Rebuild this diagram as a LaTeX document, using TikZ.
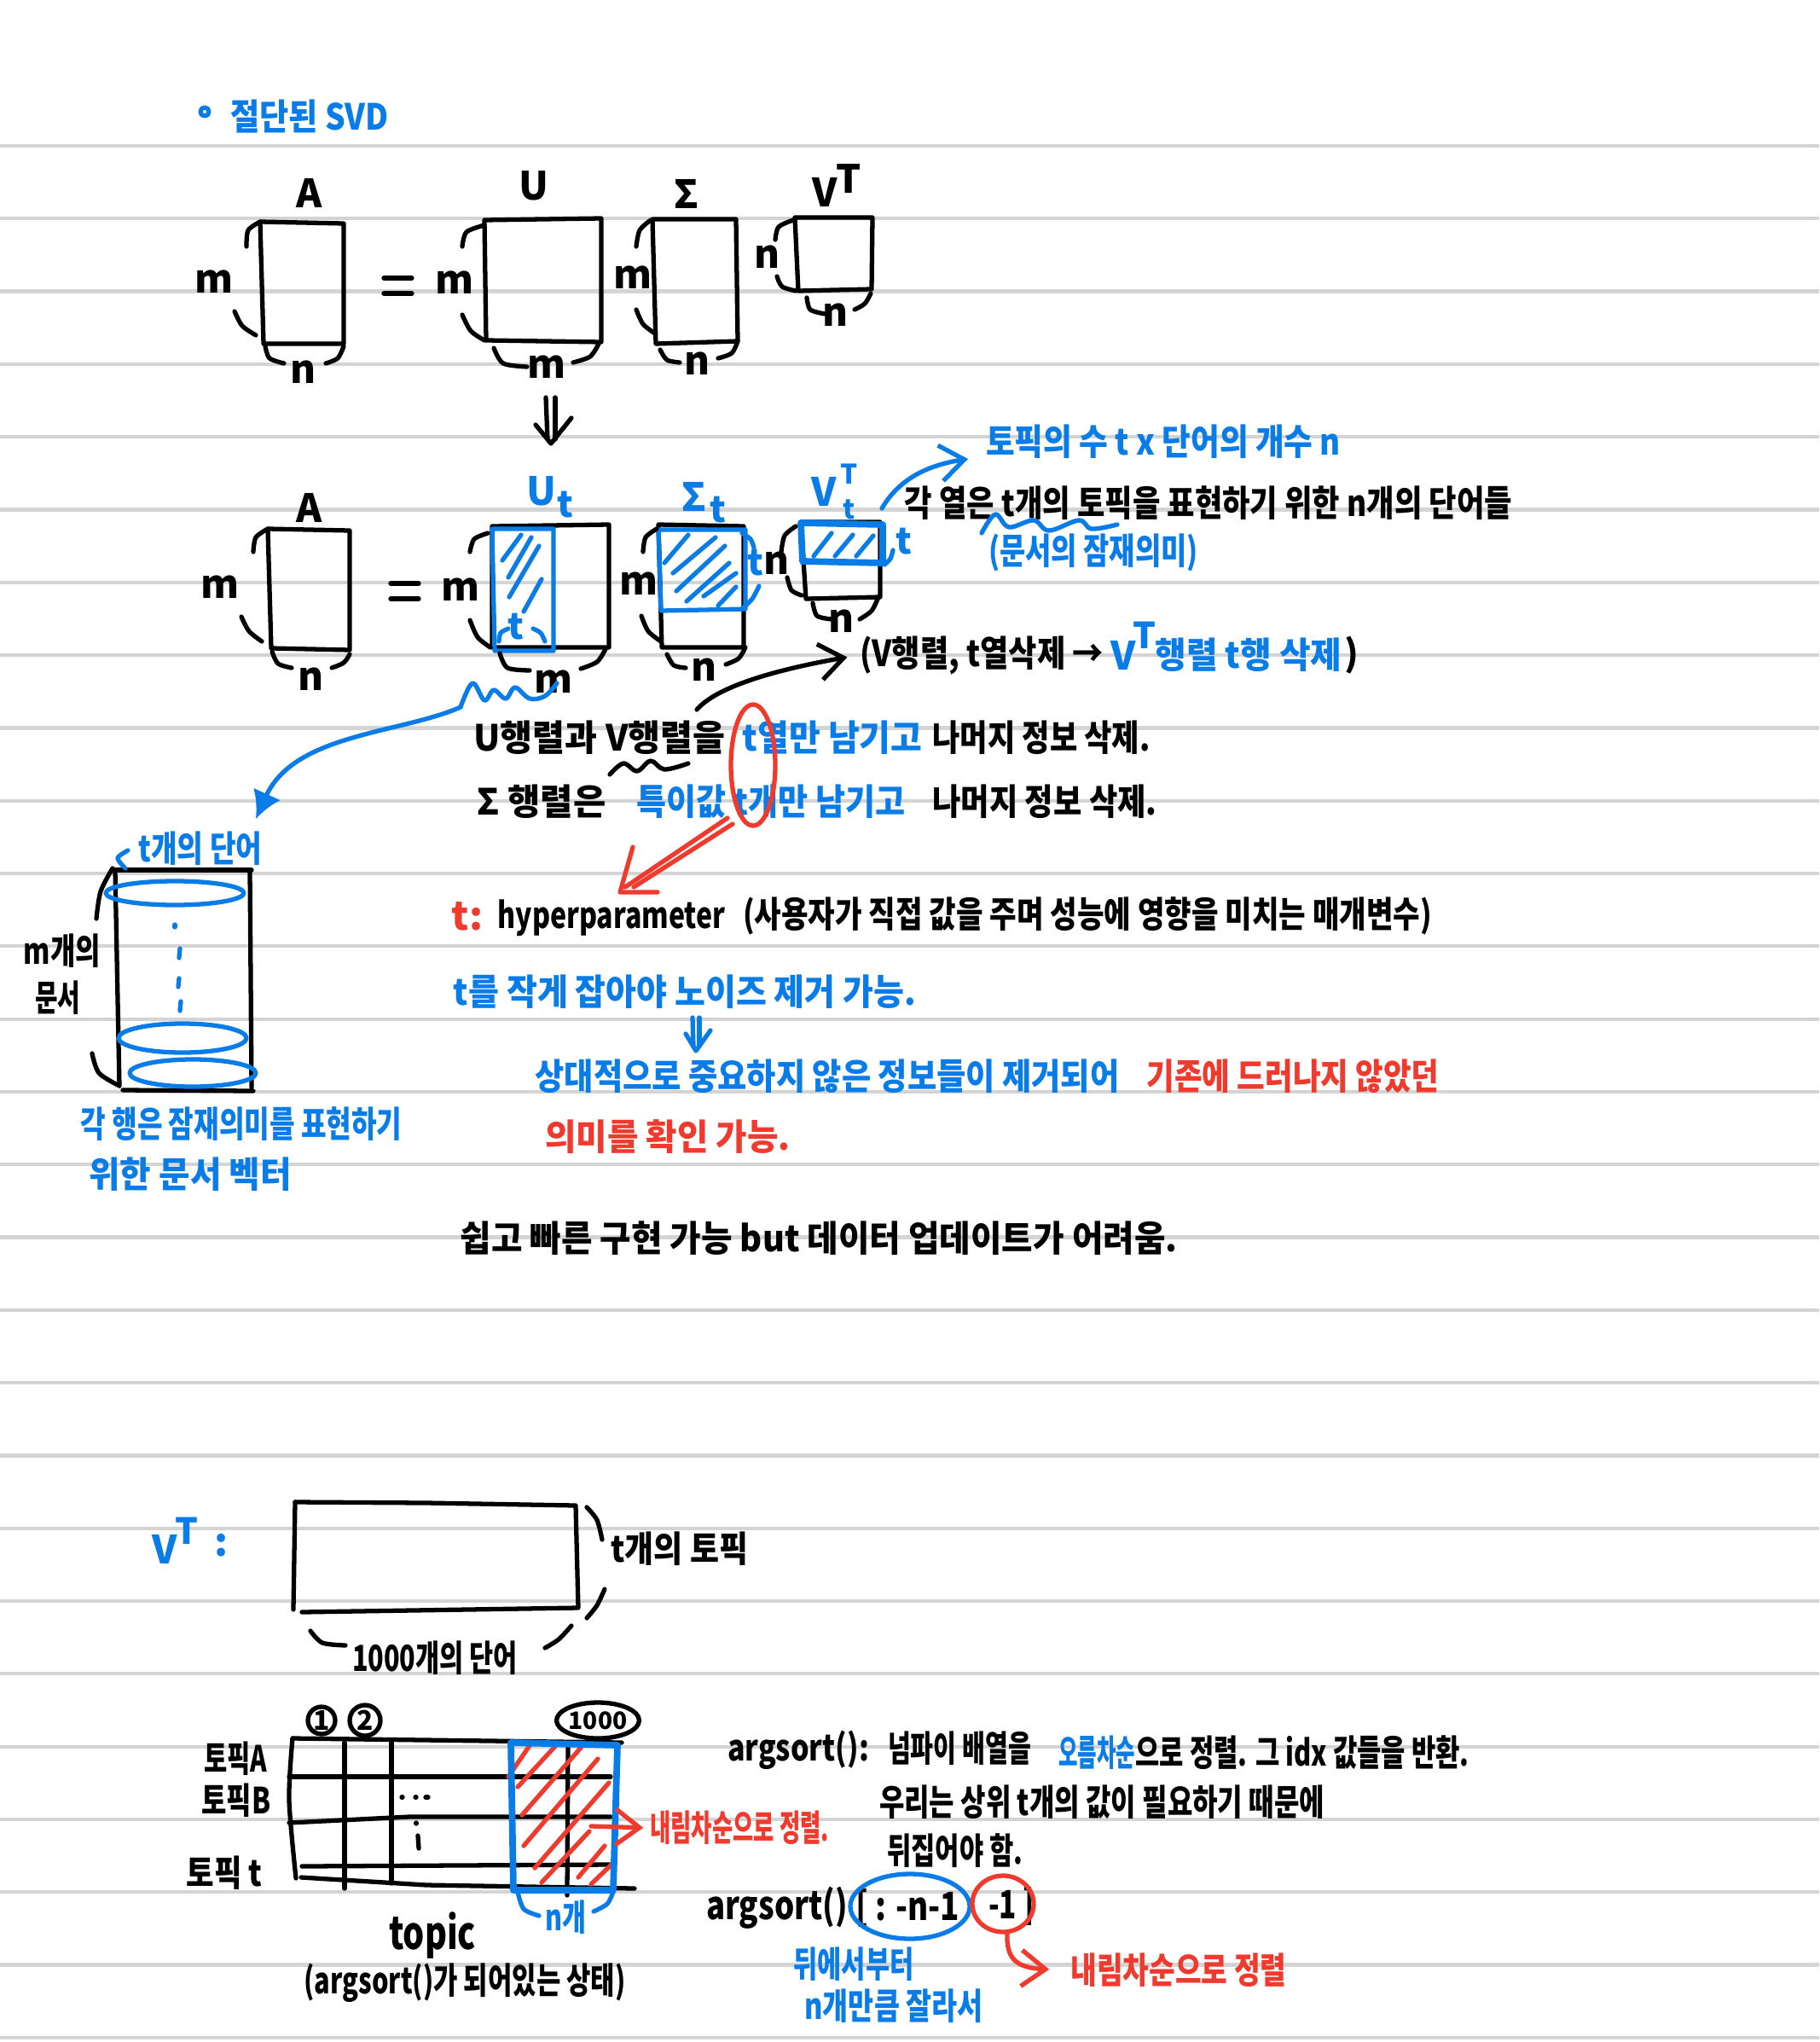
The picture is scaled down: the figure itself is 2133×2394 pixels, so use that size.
\documentclass[tikz,border=0pt]{standalone}
\usepackage{fontspec}
\usepackage{graphicx}
\setmainfont{Noto Sans CJK KR}
\usetikzlibrary{arrows.meta,shapes.geometric}
\definecolor{penblue}{HTML}{0A7CE8}
\definecolor{penred}{HTML}{F03A2E}
\definecolor{ruleline}{HTML}{D4D4D4}
\newlength{\unitpx}
\setlength{\unitpx}{0.01cm}
\newcommand{\hand}[2]{\resizebox{#1\unitpx}{\height}{#2}}
\tikzset{
	ink/.style={line width=1.5pt,line cap=round,line join=round},
	bluepen/.style={ink,penblue},
	redpen/.style={ink,penred},
	tick/.style={-{Straight Barb[length=8pt,width=12pt]}},
	note/.style={inner sep=0pt,font=\fontsize{12}{14}\selectfont\bfseries},
	letter/.style={inner sep=0pt,font=\fontsize{13}{15}\selectfont\bfseries},
	tiny/.style={inner sep=0pt,font=\fontsize{9}{10}\selectfont\bfseries},
}
\begin{document}
\begin{tikzpicture}[x=0.01cm,y=-0.01cm]
	\useasboundingbox (0,0) rectangle (2133,2394);
	%% ruled paper
	\foreach \i in {0,...,26} \draw[ruleline,line width=1.2pt] (0,{171+\i*85.3}) -- (2133,{171+\i*85.3});
	%% title
	\draw[bluepen] (240,131) circle[radius=5];
	\node[note,penblue] (title) at (363,136) {\hand{186}{절단된 SVD}};
	%% first row
	\node[letter] (lblA) at (363,226) {A};
	\draw[ink] (305,260) -- (403,262) -- (403,403) -- (309,403) -- cycle;
	\node[letter] (mA) at (251,330) {m};
	\draw[ink] plot [smooth] coordinates {(289,289) (291,270) (305,260)};
	\draw[ink] plot [smooth] coordinates {(275,365) (284,382) (300,393)};
	\draw[ink] plot [smooth] coordinates {(311,406) (316,420) (333,426)};
	\node[letter] (nA) at (356,436) {n};
	\draw[ink] plot [smooth] coordinates {(382,426) (396,420) (403,406)};
	\draw[ink] (450,326) -- (483,326);
	\draw[ink] (450,344) -- (483,344);
	\node[letter] (lblU) at (626,218) {U};
	\draw[ink] (568,258) -- (705,256) -- (705,401) -- (570,399) -- cycle;
	\node[letter] (mU) at (533,331) {m};
	\draw[ink] plot [smooth] coordinates {(542,289) (547,272) (568,264)};
	\draw[ink] plot [smooth] coordinates {(542,369) (552,388) (568,399)};
	\draw[ink] plot [smooth] coordinates {(579,408) (590,426) (618,430)};
	\node[letter] (mUb) at (641,430) {m};
	\draw[ink] plot [smooth] coordinates {(672,425) (692,418) (702,403)};
	\node[letter] (lblS) at (805,227) {Σ};
	\draw[ink] (765,257) -- (863,257) -- (865,400) -- (769,403) -- cycle;
	\node[letter] (mS) at (742,325) {m};
	\draw[ink] plot [smooth] coordinates {(746,289) (750,270) (763,258)};
	\draw[ink] plot [smooth] coordinates {(746,363) (754,380) (768,391)};
	\draw[ink] plot [smooth] coordinates {(774,410) (782,422) (797,425)};
	\node[letter] (nS) at (818,426) {n};
	\draw[ink] plot [smooth] coordinates {(842,420) (858,414) (865,400)};
	\node[letter] (lblV) at (967,225) {V};
	\node[letter] (lblVT) at (995,209) {T};
	\draw[ink] (932,255) -- (1023,255) -- (1022,339) -- (936,341) -- cycle;
	\node[letter] (nVl) at (900,301) {n};
	\draw[ink] plot [smooth] coordinates {(909,281) (913,266) (930,258)};
	\draw[ink] plot [smooth] coordinates {(911,324) (917,336) (933,341)};
	\draw[ink] plot [smooth] coordinates {(946,349) (950,363) (967,368)};
	\node[letter] (nV) at (980,369) {n};
	\draw[ink] plot [smooth] coordinates {(1002,363) (1014,356) (1021,344)};
	%% double arrow down
	\draw[ink] (640,466) -- (642,515);
	\draw[ink] (651,466) -- (651,515);
	\draw[ink] (628,498) -- (646,520) -- (670,490);
	%% second row
	\node[letter] (lblA2) at (363,595) {A};
	\draw[ink] (314,620) -- (410,622) -- (410,762) -- (318,760) -- cycle;
	\node[letter] (mA2) at (258,688) {m};
	\draw[ink] plot [smooth] coordinates {(297,647) (300,630) (314,620)};
	\draw[ink] plot [smooth] coordinates {(283,723) (292,740) (307,752)};
	\draw[ink] plot [smooth] coordinates {(319,764) (326,778) (342,783)};
	\node[letter] (nA2) at (365,796) {n};
	\draw[ink] plot [smooth] coordinates {(389,783) (403,777) (410,767)};
	\draw[ink] (458,684) -- (491,684);
	\draw[ink] (458,702) -- (491,702);
	%% U_t
	\node[letter,penblue] (lblUt) at (635,576) {U};
	\node[note,penblue] (subUt) at (663,592) {t};
	\draw[ink] (577,617) -- (714,615) -- (714,759) -- (577,759) -- cycle;
	\draw[bluepen] (577,620) -- (649,620) -- (649,763) -- (580,763) -- cycle;
	\node[letter] (mU2) at (540,691) {m};
	\draw[ink] plot [smooth] coordinates {(551,647) (556,632) (572,625)};
	\draw[ink] plot [smooth] coordinates {(551,727) (560,747) (575,759)};
	\draw[ink] plot [smooth] coordinates {(586,766) (595,783) (621,786)};
	\node[letter] (mUb2) at (649,799) {m};
	\draw[ink] plot [smooth] coordinates {(681,784) (700,776) (710,761)};
	\node[note,penblue] (tUt) at (605,735) {t};
	\draw[bluepen] plot [smooth] coordinates {(585,752) (587,742) (596,737)};
	\draw[bluepen] plot [smooth] coordinates {(625,737) (634,742) (639,752)};
	\draw[bluepen] (589,657) -- (611,627);
	\draw[bluepen] (596,677) -- (623,630);
	\draw[bluepen] (597,700) -- (632,640);
	\draw[bluepen] (614,717) -- (635,679);
	%% squiggle under U_t and long arrow
	\coordinate (wavestart) at (540,829);
	\coordinate (rowdocs) at (300,960);
	\draw[bluepen] plot [smooth,tension=.6] coordinates {(540,829) (554,801) (568,821) (579,809) (593,819) (604,806) (621,819) (639,816) (653,801)};
	\draw[bluepen,-{Latex[length=9pt,width=10pt]}] (wavestart) .. controls (470,860) and (345,860) .. (rowdocs);
	%% Sigma_t
	\node[letter,penblue] (lblSt) at (814,582) {Σ};
	\node[note,penblue] (subSt) at (842,598) {t};
	\draw[ink] (772,615) -- (872,617) -- (872,759) -- (776,759) -- cycle;
	\draw[bluepen] (772,621) -- (874,621) -- (874,714) -- (775,716) -- cycle;
	\node[letter] (mS2) at (749,684) {m};
	\draw[ink] plot [smooth] coordinates {(754,647) (757,630) (770,620)};
	\draw[ink] plot [smooth] coordinates {(752,722) (760,740) (775,752)};
	\draw[ink] plot [smooth] coordinates {(782,767) (790,780) (804,783)};
	\node[letter] (nS2) at (826,785) {n};
	\draw[ink] plot [smooth] coordinates {(851,779) (866,772) (874,759)};
	\draw[bluepen] plot [smooth] coordinates {(870,625) (880,632) (884,642)};
	\node[note,penblue] (tSt) at (886,660) {t};
	\draw[bluepen] plot [smooth] coordinates {(890,687) (882,702) (870,714)};
	\draw[bluepen] (779,660) -- (807,627);
	\draw[bluepen] (789,672) -- (839,630);
	\draw[bluepen] (793,693) -- (850,640);
	\draw[bluepen] (805,705) -- (855,660);
	\draw[bluepen] (825,699) -- (863,672);
	\draw[bluepen] (842,710) -- (863,688);
	%% V_t^T
	\node[letter,penblue] (lblVt) at (966,576) {V};
	\node[tiny,penblue] (supVt) at (996,556) {T};
	\node[tiny,penblue] (subVt) at (996,597) {t};
	\draw[ink] (939,612) -- (1032,612) -- (1032,700) -- (945,702) -- cycle;
	\draw[bluepen,line width=2.2pt] (939,613) -- (1035,615) -- (1035,660) -- (941,658) -- cycle;
	\node[letter] (nVt) at (911,660) {n};
	\draw[ink] plot [smooth] coordinates {(916,647) (920,628) (933,617)};
	\draw[ink] plot [smooth] coordinates {(923,677) (928,692) (940,698)};
	\draw[ink] plot [smooth] coordinates {(953,707) (958,722) (975,726)};
	\node[letter] (nVtb) at (987,728) {n};
	\draw[ink] plot [smooth] coordinates {(1008,726) (1022,716) (1030,700)};
	\node[note,penblue] (tVt) at (1060,635) {t};
	\draw[bluepen] plot [smooth] coordinates {(1037,662) (1044,655) (1047,645)};
	\draw[bluepen] (954,652) -- (975,625);
	\draw[bluepen] (979,652) -- (1000,627);
	\draw[bluepen] (1004,652) -- (1024,628);
	%% notes on the right
	\node[note,penblue] (shape) at (1364,518) {\hand{416}{토픽의 수 t x 단어의 개수 n}};
	\node[note] (cols) at (1417,590) {\hand{712}{각 열은 t개의  토픽을 표현하기 위한  n개의 단어들}};
	\node[note,penblue] (latent) at (1282,648) {\hand{246}{(문서의 잠재의미)}};
	\coordinate (vtcorner) at (1034,596);
	\draw[bluepen,tick] (vtcorner) .. controls (1055,560) and (1090,545) .. (1135,538);
	\draw[bluepen] plot [smooth,tension=.6] coordinates {(1151,625) (1167,603) (1183,618) (1212,610) (1230,622) (1265,610) (1280,620) (1310,615)};
	\node[note] (del) at (1151,768) {\hand{286}{(V행렬, t열삭제 →}};
	\node[letter,penblue] (delV) at (1317,768) {V};
	\node[note,penblue] (delT) at (1342,745) {T};
	\node[note,penblue] (delVt) at (1464,768) {\hand{219}{행렬 t행 삭제}};
	\node[note] (delend) at (1585,768) {)};
	\coordinate (vword) at (817,832);
	\draw[ink,tick,shorten >=4pt] (vword) .. controls (840,805) and (910,785) .. (del.west);
	%% main lines
	\node[note] (lineA) at (703,865) {\hand{295}{U행렬과 V행렬을}};
	\node[note,penblue] (lineB) at (976,865) {\hand{211}{t열만 남기고}};
	\node[note] (lineC) at (1221,865) {\hand{255}{나머지 정보 삭제.}};
	\node[note] (lineD) at (635,940) {\hand{151}{Σ 행렬은}};
	\node[note,penblue] (lineE) at (904,940) {\hand{315}{특이값 t개만 남기고}};
	\node[note] (lineF) at (1225,940) {\hand{263}{나머지 정보 삭제.}};
	\draw[ink] plot [smooth,tension=.6] coordinates {(715,908) (731,895) (747,904) (763,892) (779,902) (807,895)};
	\draw[redpen] (883,897) ellipse[x radius=26,y radius=71];
	\draw[redpen] (853,959) -- (733,1040);
	\draw[redpen] (859,966) -- (743,1040);
	\draw[redpen] (742,993) -- (727,1046) -- (771,1046);
	\node[letter,penred] (hyperT) at (548,1074) {t:};
	\node[note] (hyper) at (717,1076) {\hand{267}{hyperparameter}};
	\node[note] (hyperB) at (1275,1074) {\hand{808}{(사용자가 직접 값을 주며 성능에 영향을 미치는 매개변수)}};
	\node[note,penblue] (small) at (803,1163) {\hand{542}{t를 작게 잡아야 노이즈 제거 가능.}};
	\draw[bluepen] (812,1193) -- (813,1226);
	\draw[bluepen] (820,1193) -- (820,1226);
	\draw[bluepen] (804,1212) -- (816,1232) -- (833,1208);
	\node[note,penblue] (effA) at (970,1262) {\hand{685}{상대적으로 중요하지 않은 정보들이 제거되어}};
	\node[note,penred] (effB) at (1516,1262) {\hand{343}{기존에 드러나지 않았던}};
	\node[note,penred] (effC) at (783,1333) {\hand{287}{의미를 확인 가능.}};
	\node[note] (easy) at (960,1452) {\hand{841}{쉽고 빠른 구현 가능 but 데이터 업데이트가 어려움.}};
	%% document matrix on the left
	\draw[ink] (135,1020) -- (295,1020);
	\draw[ink] (135,1020) -- (140,1273);
	\draw[ink] (293,1020) -- (295,1275);
	\draw[ink] (144,1278) -- (297,1279);
	\node[note,penblue] (tword) at (235,995) {\hand{145}{t개의 단어}};
	\draw[bluepen] plot [smooth] coordinates {(150,997) (138,1006) (147,1018)};
	\draw[ink] plot [smooth] coordinates {(113,1077) (118,1045) (132,1018)};
	\draw[ink] plot [smooth] coordinates {(108,1235) (116,1258) (140,1273)};
	\node[note] (mdocA) at (73,1115) {\hand{90}{m개의}};
	\node[note] (mdocB) at (68,1170) {\hand{53}{문서}};
	\draw[bluepen] (205,1047) ellipse[x radius=81,y radius=14];
	\draw[bluepen] (214,1217) ellipse[x radius=75,y radius=17];
	\draw[bluepen] (226,1258) ellipse[x radius=74,y radius=16];
	\draw[bluepen] (205,1084) -- (205,1087);
	\draw[bluepen] (211,1112) -- (210,1123);
	\draw[bluepen] (210,1147) -- (209,1157);
	\draw[bluepen] (212,1174) -- (211,1185);
	\node[note,penblue] (rowA) at (283,1318) {\hand{377}{각 행은 잠재의미를 표현하기}};
	\node[note,penblue] (rowB) at (223,1377) {\hand{237}{위한 문서 벡터}};
	%% V^T block
	\node[letter,penblue] (vtV) at (193,1816) {V};
	\node[note,penblue] (vtT) at (219,1795) {T};
	\node[letter,penblue] (vtC) at (260,1812) {:};
	\draw[ink] (346,1761) -- (500,1762) -- (675,1765) -- (678,1885) -- (354,1890);
	\draw[ink] (346,1761) -- (344,1887);
	\draw[ink] plot [smooth] coordinates {(688,1767) (700,1782) (706,1805)};
	\node[note] (ttopic) at (797,1816) {\hand{161}{t개의 토픽}};
	\draw[ink] plot [smooth] coordinates {(709,1863) (700,1882) (688,1897)};
	\draw[ink] plot [smooth] coordinates {(364,1912) (378,1926) (405,1929)};
	\node[note] (kword) at (510,1944) {\hand{194}{1000개의 단어}};
	\draw[ink] plot [smooth] coordinates {(639,1932) (655,1922) (670,1906)};
	%% topic table
	\node[ink,draw,circle,inner sep=0pt,minimum size=32\unitpx,font=\fontsize{9}{10}\selectfont\bfseries] (one) at (377,2017) {1};
	\node[ink,draw,circle,inner sep=0pt,minimum size=36\unitpx,font=\fontsize{9}{10}\selectfont\bfseries] (two) at (428,2017) {2};
	\node[ink,draw,ellipse,inner sep=0pt,minimum width=76\unitpx,minimum height=42\unitpx,font=\fontsize{8}{10}\selectfont\bfseries] (kilo) at (701,2017) {1000};
	\node[note] (topA) at (276,2062) {\hand{74}{토픽A}};
	\node[note] (topB) at (277,2111) {\hand{81}{토픽B}};
	\node[note] (topT) at (263,2196) {\hand{89}{토픽 t}};
	\draw[ink] plot [smooth] coordinates {(343,2038) (339,2110) (347,2202)};
	\draw[ink] (343,2038) -- (729,2043);
	\draw[ink] (339,2083) -- (716,2083);
	\draw[ink] (339,2137) -- (480,2130) -- (716,2130);
	\draw[ink] (354,2188) -- (716,2186);
	\draw[ink] (353,2201) -- (500,2210) -- (744,2214);
	\draw[ink] (404,2043) -- (404,2214);
	\draw[ink] (459,2043) -- (459,2208);
	\draw[ink] (666,2043) -- (665,2222);
	\draw[ink] (471,2107) -- (472,2107);
	\draw[ink] (487,2107) -- (488,2107);
	\draw[ink] (499,2107) -- (502,2107);
	\draw[ink] (488,2137) -- (488,2138);
	\draw[ink] (490,2152) -- (491,2167);
	%% hatching
	\draw[redpen] (596,2083) -- (622,2045);
	\draw[redpen] (607,2095) -- (654,2044);
	\draw[redpen] (612,2128) -- (681,2049);
	\draw[redpen] (614,2164) -- (701,2062);
	\draw[redpen] (627,2190) -- (714,2090);
	\draw[redpen] (635,2207) -- (691,2147);
	\draw[redpen] (678,2201) -- (709,2164);
	\draw[redpen] (693,2209) -- (719,2184);
	\draw[bluepen,line width=2.2pt] (599,2043) -- (724,2046) -- (719,2216) -- (602,2216) -- cycle;
	\coordinate (tailsort) at (693,2141);
	\node[note,penred] (descA) at (867,2143) {\hand{210}{내림차순으로 정렬.}};
	\draw[redpen,tick,shorten >=2pt] (tailsort) -- (descA.west);
	\draw[bluepen] plot [smooth] coordinates {(607,2218) (614,2238) (632,2246)};
	\node[note,penblue] (nkey) at (663,2248) {\hand{48}{n개}};
	\draw[bluepen] plot [smooth] coordinates {(696,2241) (712,2232) (719,2218)};
	\node[letter,font=\fontsize{15}{17}\selectfont\bfseries] (topic) at (507,2269) {\hand{102}{topic}};
	\node[note] (state) at (545,2325) {\hand{377}{(argsort()가 되어있는 상태)}};
	%% argsort notes
	\node[note] (sortA) at (936,2052) {\hand{166}{argsort():}};
	\node[note] (sortB) at (1125,2050) {\hand{168}{넘파이 배열을}};
	\node[note,penblue] (sortC) at (1286,2055) {\hand{90}{오름차순}};
	\node[note] (sortD) at (1527,2055) {\hand{391}{으로 정렬. 그 idx 값들을 반환.}};
	\node[note] (needA) at (1292,2113) {\hand{522}{우리는 상위 t개의 값이 필요하기 때문에}};
	\node[note] (needB) at (1120,2170) {\hand{159}{뒤집어야 함.}};
	\node[letter] (callA) at (911,2237) {\hand{166}{argsort()}};
	\node[letter] (callB) at (1064,2237) {\hand{122}{[ : -n-1}};
	\node[letter] (callC) at (1186,2235) {\hand{54}{-1 ]}};
	\draw[bluepen] (1067,2235) ellipse[x radius=70,y radius=38];
	\draw[redpen] (1176,2232) ellipse[x radius=36,y radius=33];
	\node[note,penred] (descB) at (1382,2310) {\hand{253}{내림차순으로 정렬}};
	\coordinate (redtail) at (1181,2267);
	\draw[redpen,tick,shorten >=7pt] (redtail) .. controls (1180,2295) and (1190,2307) .. (descB.west);
	\node[note,penblue] (backA) at (1001,2303) {\hand{141}{뒤에서부터}};
	\node[note,penblue] (backB) at (1048,2352) {\hand{209}{n개만큼 잘라서}};
\end{tikzpicture}
\end{document}
